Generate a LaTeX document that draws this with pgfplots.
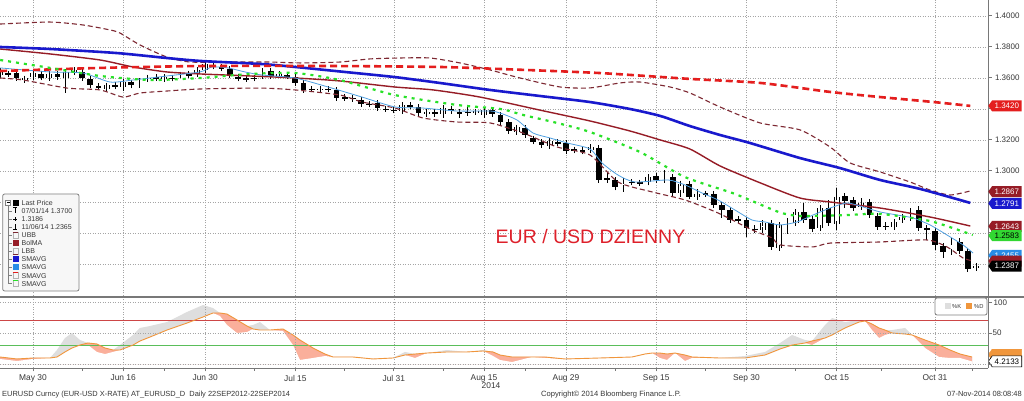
\documentclass[border=0pt]{standalone}
\usepackage{pgfplots}
\pgfplotsset{compat=1.18}
\usepackage{pgfplotstable}
\usetikzlibrary{shapes.symbols}
\usepackage{fontspec}
\setmainfont{Liberation Sans}

\definecolor{smablue}{RGB}{25,25,205}
\definecolor{smared}{RGB}{228,30,30}
\definecolor{bolred}{RGB}{150,28,38}
\definecolor{bandred}{RGB}{125,40,50}
\definecolor{ltblue}{RGB}{80,160,225}
\definecolor{lblblue}{RGB}{40,140,230}
\definecolor{smagreen}{RGB}{40,225,40}
\definecolor{lblgreen}{RGB}{50,215,50}
\definecolor{gridgray}{RGB}{165,165,165}
\definecolor{axisgray}{RGB}{120,120,120}
\definecolor{txtgray}{RGB}{55,55,55}
\definecolor{stochorange}{RGB}{240,150,60}
\definecolor{stochgrey}{RGB}{222,222,222}
\definecolor{stochpink}{RGB}{250,175,155}
\definecolor{titlered}{RGB}{222,32,42}
\definecolor{obred}{RGB}{205,70,70}
\definecolor{obgreen}{RGB}{90,190,90}

\pgfplotstableread{
i o h l c u
-4 1.3619 1.3652 1.3613 1.3645 1
-3 1.3629 1.3645 1.3606 1.3626 0
-2 1.3632 1.3639 1.3594 1.3600 0
-1 1.3587 1.3606 1.3568 1.3597 1
0 1.3606 1.3639 1.3600 1.3632 1
1 1.3629 1.3639 1.3594 1.3603 0
2 1.3600 1.3632 1.3587 1.3626 1
3 1.3626 1.3632 1.3600 1.3606 0
4 1.3600 1.3652 1.3503 1.3639 1
5 1.3639 1.3658 1.3632 1.3652 1
6 1.3639 1.3652 1.3594 1.3600 0
7 1.3594 1.3600 1.3548 1.3555 0
8 1.3548 1.3555 1.3535 1.3542 0
9 1.3529 1.3561 1.3523 1.3552 1
10 1.3555 1.3561 1.3535 1.3545 0
11 1.3545 1.3581 1.3516 1.3574 1
12 1.3571 1.3581 1.3548 1.3552 0
13 1.3555 1.3587 1.3548 1.3581 1
14 1.3594 1.3619 1.3587 1.3603 1
15 1.3606 1.3613 1.3587 1.3600 0
16 1.3594 1.3613 1.3587 1.3606 1
17 1.3600 1.3613 1.3587 1.3597 0
18 1.3619 1.3639 1.3606 1.3623 1
19 1.3629 1.3645 1.3600 1.3616 0
20 1.3626 1.3658 1.3619 1.3652 1
21 1.3652 1.3700 1.3645 1.3690 1
22 1.3684 1.3697 1.3665 1.3674 0
23 1.3671 1.3677 1.3652 1.3661 0
24 1.3658 1.3665 1.3613 1.3619 0
25 1.3606 1.3613 1.3587 1.3597 0
26 1.3597 1.3613 1.3574 1.3594 0
27 1.3600 1.3613 1.3581 1.3597 0
28 1.3613 1.3652 1.3606 1.3645 1
29 1.3645 1.3652 1.3606 1.3613 0
30 1.3619 1.3639 1.3606 1.3626 1
31 1.3619 1.3632 1.3600 1.3613 0
32 1.3606 1.3613 1.3561 1.3568 0
33 1.3568 1.3574 1.3516 1.3523 0
34 1.3529 1.3548 1.3510 1.3526 0
35 1.3526 1.3542 1.3510 1.3529 1
36 1.3529 1.3542 1.3516 1.3526 0
37 1.3523 1.3529 1.3465 1.3471 0
38 1.3477 1.3490 1.3458 1.3471 0
39 1.3471 1.3484 1.3452 1.3465 0
40 1.3461 1.3471 1.3426 1.3432 0
41 1.3432 1.3445 1.3419 1.3429 0
42 1.3439 1.3445 1.3400 1.3406 0
43 1.3403 1.3419 1.3387 1.3400 0
44 1.3394 1.3406 1.3374 1.3390 0
45 1.3387 1.3439 1.3381 1.3426 1
46 1.3426 1.3432 1.3406 1.3416 0
47 1.3413 1.3426 1.3348 1.3374 0
48 1.3368 1.3387 1.3348 1.3381 1
49 1.3381 1.3387 1.3361 1.3368 0
50 1.3368 1.3426 1.3342 1.3406 1
51 1.3400 1.3406 1.3381 1.3387 0
52 1.3381 1.3387 1.3342 1.3371 0
53 1.3381 1.3413 1.3355 1.3377 0
54 1.3381 1.3400 1.3361 1.3384 1
55 1.3361 1.3400 1.3355 1.3394 1
56 1.3394 1.3400 1.3361 1.3368 0
57 1.3361 1.3368 1.3310 1.3316 0
58 1.3316 1.3323 1.3252 1.3258 0
59 1.3252 1.3290 1.3245 1.3281 1
60 1.3277 1.3290 1.3226 1.3232 0
61 1.3210 1.3219 1.3181 1.3190 0
62 1.3187 1.3200 1.3161 1.3168 0
63 1.3161 1.3200 1.3155 1.3194 1
64 1.3184 1.3206 1.3161 1.3181 0
65 1.3181 1.3194 1.3123 1.3129 0
66 1.3139 1.3148 1.3123 1.3132 0
67 1.3135 1.3142 1.3116 1.3126 0
68 1.3135 1.3155 1.3129 1.3155 1
69 1.3148 1.3161 1.2923 1.2942 0
70 1.2955 1.2987 1.2923 1.2948 0
71 1.2942 1.2948 1.2884 1.2894 0
72 1.2890 1.2955 1.2865 1.2935 1
73 1.2929 1.2948 1.2910 1.2926 0
74 1.2926 1.2935 1.2910 1.2923 0
75 1.2926 1.2974 1.2916 1.2961 1
76 1.2968 1.2981 1.2935 1.2942 0
77 1.2942 1.3006 1.2929 1.2965 1
78 1.2961 1.2968 1.2845 1.2858 0
79 1.2858 1.2929 1.2832 1.2919 1
80 1.2919 1.2929 1.2826 1.2835 0
81 1.2832 1.2884 1.2826 1.2852 1
82 1.2855 1.2871 1.2832 1.2852 0
83 1.2852 1.2858 1.2774 1.2781 0
84 1.2781 1.2787 1.2697 1.2748 0
85 1.2748 1.2755 1.2677 1.2684 0
86 1.2690 1.2703 1.2671 1.2681 0
87 1.2684 1.2697 1.2574 1.2632 0
88 1.2629 1.2652 1.2600 1.2626 0
89 1.2619 1.2684 1.2606 1.2665 1
90 1.2665 1.2677 1.2503 1.2510 0
91 1.2503 1.2671 1.2497 1.2652 1
92 1.2645 1.2697 1.2594 1.2671 1
93 1.2665 1.2748 1.2645 1.2735 1
94 1.2735 1.2794 1.2677 1.2684 0
95 1.2690 1.2703 1.2613 1.2626 0
96 1.2632 1.2781 1.2626 1.2761 1
97 1.2761 1.2813 1.2652 1.2665 0
98 1.2658 1.2890 1.2619 1.2832 1
99 1.2839 1.2852 1.2761 1.2806 0
100 1.2813 1.2826 1.2755 1.2761 0
101 1.2768 1.2826 1.2748 1.2794 1
102 1.2800 1.2813 1.2703 1.2716 0
103 1.2710 1.2723 1.2632 1.2639 0
104 1.2645 1.2671 1.2619 1.2642 0
105 1.2639 1.2684 1.2632 1.2671 1
106 1.2684 1.2716 1.2671 1.2703 1
107 1.2697 1.2761 1.2684 1.2729 1
108 1.2748 1.2774 1.2626 1.2632 0
109 1.2632 1.2639 1.2555 1.2619 0
110 1.2613 1.2626 1.2490 1.2523 0
111 1.2516 1.2529 1.2439 1.2477 0
112 1.2477 1.2568 1.2465 1.2542 1
113 1.2542 1.2568 1.2465 1.2484 0
114 1.2484 1.2503 1.2365 1.2368 0
115 1.2375 1.2394 1.2368 1.2387 1
}\candles

\pgfplotstableread{
i d g p
-4.02 11.3 11.3 8.1
-1.95 8.1 8.1 4.8
0 9.7 9.7 8.1
2.07 9.7 9.7 9.7
2.93 11.3 22.6 11.3
3.90 19.4 41.9 19.4
4.76 25.8 50.0 25.8
5.73 30.6 38.7 30.6
6.71 33.9 33.9 30.6
7.80 32.3 32.3 19.4
8.78 25.8 25.8 16.1
9.76 22.6 22.6 19.4
10.61 22.6 30.6 22.6
12.20 30.6 46.8 30.6
13.05 37.1 58.1 37.1
14.27 43.5 61.3 43.5
16.34 54.8 67.7 54.8
18.78 66.1 83.9 66.1
20.73 75.8 95.2 75.8
21.95 82.3 90.3 82.3
22.80 82.3 82.3 77.4
23.66 80.6 80.6 62.9
24.88 71.0 71.0 50.0
26.10 61.3 61.3 51.6
26.83 56.5 62.9 56.5
27.68 54.8 67.7 54.8
28.90 54.8 54.8 54.8
30.49 56.5 56.5 53.2
31.71 46.8 46.8 30.6
32.56 38.7 38.7 6.5
34.15 25.8 25.8 9.7
35.61 16.1 16.1 12.9
36.59 11.3 11.3 11.3
39.02 11.3 11.3 11.3
41.46 8.1 8.1 8.1
43.90 9.7 9.7 9.7
45.37 14.5 19.4 14.5
46.59 16.1 16.1 9.7
48.05 17.7 17.7 17.7
50.49 19.4 22.6 19.4
52.93 19.4 19.4 19.4
54.88 21.0 22.6 21.0
56.10 19.4 19.4 12.9
56.95 14.5 14.5 6.5
58.41 11.3 11.3 3.2
60.85 11.3 11.3 11.3
62.44 11.3 11.3 9.7
64.88 8.1 8.1 8.1
69.15 9.7 9.7 9.7
73.05 11.3 11.3 11.3
74.63 16.1 16.1 16.1
75.49 17.7 17.7 17.7
76.46 17.7 17.7 9.7
77.32 16.1 16.1 6.5
78.29 17.7 17.7 17.7
79.51 14.5 14.5 4.8
80.37 11.3 11.3 9.7
83.66 9.7 9.7 9.7
86.83 9.7 12.9 9.7
89.27 14.5 19.4 14.5
91.10 24.2 33.9 24.2
92.56 30.6 46.8 30.6
94.15 33.9 38.7 33.9
95.00 37.1 37.1 30.6
96.59 41.9 62.9 41.9
97.44 46.8 74.2 46.8
99.02 58.1 67.7 58.1
100.73 67.7 71.0 67.7
101.46 69.4 69.4 69.4
102.32 64.5 64.5 54.8
103.17 58.1 58.1 41.9
103.90 54.8 54.8 46.8
104.76 50.0 54.8 50.0
106.34 48.4 58.1 48.4
107.20 46.8 46.8 46.8
108.78 38.7 38.7 25.8
110.49 30.6 30.6 11.3
111.83 22.6 22.6 9.7
113.05 16.1 16.1 9.7
114.51 11.3 11.3 4.2
}\stoch

\tikzset{plabel/.style={shape=signal, signal to=west, signal from=nowhere,
  signal pointer angle=110, anchor=west, inner xsep=2.5pt, inner ysep=1.2pt,
  minimum height=11pt, font=\fontsize{8}{9}\selectfont, text=white}}

\begin{document}
\begin{tikzpicture}[x=1pt,y=1pt]
\useasboundingbox (0,0) rectangle (1024,401);
\fill[white] (0,0) rectangle (1024,401);

% ---------------- main price panel ----------------
\begin{axis}[
  at={(0pt,105pt)}, anchor=south west,
  width=988pt, height=296pt, scale only axis,
  xmin=-4.02, xmax=116.46, ymin=1.21935, ymax=1.41032,
  clip mode=individual,
  axis x line*=bottom, axis y line*=right,
  x axis line style={draw=none},
  y axis line style={draw=axisgray, line width=0.8pt},
  xtick={0,11,21,32,44,55,65,76,87,98,110}, xticklabels={},
  x tick style={draw=none},
  ytick={1.24,1.26,1.28,1.30,1.32,1.34,1.36,1.38,1.40},
  yticklabels={,,,1.3000,1.3200,,1.3600,1.3800,1.4000},
  yticklabel style={font=\fontsize{8}{9}\selectfont, text=txtgray},
  y tick style={draw=axisgray, line width=1pt},
  tick align=outside, major tick length=3.5pt,
  xmajorgrids, ymajorgrids,
  grid style={gridgray, line width=0.5pt, dash pattern=on 1pt off 1.5pt},
]
% wicks
\addplot[draw=none, mark=none, error bars/.cd, y dir=both, y explicit, error mark=none,
  error bar style={draw=black, line width=0.8pt}]
  table[x=i, y expr={(\thisrow{h}+\thisrow{l})/2}, y error expr={(\thisrow{h}-\thisrow{l})/2}] {\candles};
% down bodies (black)
\addplot[draw=none, mark=none, error bars/.cd, y dir=both, y explicit,
  error bar style={draw=black, line width=5.8pt},
  error mark=-, error mark options={draw=black, line width=0.9pt, mark size=2.9pt}]
  table[x expr={\thisrow{u}==0 ? \thisrow{i} : -100}, y expr={(\thisrow{o}+\thisrow{c})/2},
        y error expr={abs(\thisrow{o}-\thisrow{c})/2}] {\candles};
% up bodies (hollow)
\addplot[draw=none, mark=none, error bars/.cd, y dir=both, y explicit, error mark=none,
  error bar style={draw=black, line width=5.8pt}]
  table[x expr={\thisrow{u}==1 ? \thisrow{i} : -100}, y expr={(\thisrow{o}+\thisrow{c})/2},
        y error expr={abs(\thisrow{o}-\thisrow{c})/2}] {\candles};
\addplot[draw=none, mark=none, error bars/.cd, y dir=both, y explicit,
  error bar style={draw=white, line width=4.2pt},
  error mark=-, error mark options={draw=black, line width=0.9pt, mark size=2.9pt}]
  table[x expr={\thisrow{u}==1 ? \thisrow{i} : -100}, y expr={(\thisrow{o}+\thisrow{c})/2},
        y error expr={abs(\thisrow{o}-\thisrow{c})/2}] {\candles};

% upper Bollinger band
\addplot[bandred, line width=1.1pt, dash pattern=on 5pt off 3pt, smooth, tension=0.4] coordinates {
(-4.02,1.3948) (2.07,1.3961) (6.10,1.3942) (9.39,1.3910) (10.61,1.3890) (13.05,1.3813)
(16.34,1.3735) (19.15,1.3703) (24.02,1.3703) (28.90,1.3703) (32.56,1.3697) (37.44,1.3703)
(41.10,1.3723) (44.76,1.3729) (48.41,1.3729) (52.07,1.3697) (55.73,1.3652) (59.39,1.3600)
(64.27,1.3542) (67.93,1.3536) (71.59,1.3568) (74.02,1.3574) (77.68,1.3542) (80.12,1.3503)
(83.78,1.3413) (88.66,1.3310) (93.54,1.3265) (97.20,1.3155) (99.63,1.3052) (103.29,1.2994)
(106.95,1.2929) (109.39,1.2877) (111.83,1.2845) (114.27,1.2871)};
% lower Bollinger band
\addplot[bandred, line width=1.1pt, dash pattern=on 5pt off 3pt, smooth, tension=0.4] coordinates {
(-4.02,1.3600) (-1.22,1.3587) (4.15,1.3535) (8.17,1.3523) (10.98,1.3477) (13.05,1.3503)
(16.34,1.3516) (20.37,1.3529) (27.68,1.3535) (31.95,1.3523) (37.44,1.3490) (40.12,1.3445)
(44.15,1.3406) (47.56,1.3342) (51.71,1.3316) (55.73,1.3310) (59.76,1.3245) (63.90,1.3155)
(67.93,1.3103) (71.34,1.2929) (75.49,1.2865) (79.51,1.2813) (83.54,1.2729) (87.68,1.2620)
(90.12,1.2568) (91.10,1.2523) (95.12,1.2510) (97.20,1.2535) (103.29,1.2542) (109.02,1.2555)
(111.46,1.2510) (113.41,1.2439) (114.63,1.2419)};
% Bollinger MA
\addplot[bolred, line width=1.4pt, smooth, tension=0.4] coordinates {
(-4.0,1.3787) (2.1,1.3755) (8.2,1.3716) (12.2,1.3671) (16.3,1.3639) (20.4,1.3626)
(26.5,1.3613) (32.0,1.3600) (37.4,1.3581) (44.1,1.3542) (48.8,1.3523) (54.5,1.3477)
(61.8,1.3393) (67.9,1.3323) (72.8,1.3258) (76.5,1.3200) (80.1,1.3142) (83.8,1.3032)
(88.7,1.2923) (93.5,1.2826) (97.2,1.2800) (103.3,1.2761) (109.4,1.2703) (114.3,1.2645)};
% short SMA (light blue)
\addplot[ltblue, line width=0.8pt, smooth, tension=0.4] coordinates {
(-4.02,1.3665) (2.07,1.3639) (6.10,1.3632) (9.39,1.3574) (12.20,1.3587) (16.34,1.3613)
(20.37,1.3639) (21.83,1.3671) (23.78,1.3665) (25.85,1.3639) (27.93,1.3619) (31.95,1.3600)
(35.98,1.3542) (40.12,1.3477) (44.15,1.3413) (47.56,1.3406) (51.71,1.3387) (55.73,1.3387)
(56.95,1.3374) (59.02,1.3329) (60.98,1.3245) (63.05,1.3213) (65.12,1.3181) (67.93,1.3142)
(69.39,1.3052) (71.34,1.2974) (73.41,1.2929) (77.44,1.2942) (79.51,1.2910) (81.59,1.2858)
(83.54,1.2813) (85.61,1.2748) (87.68,1.2684) (89.27,1.2671) (91.10,1.2652) (93.17,1.2671)
(95.12,1.2716) (97.20,1.2761) (99.27,1.2794) (101.22,1.2768) (103.29,1.2736) (105.37,1.2716)
(107.32,1.2697) (109.39,1.2652) (111.46,1.2587) (113.41,1.2523) (114.63,1.2471)};
% long SMA (blue)
\addplot[smablue, line width=2.6pt, smooth, tension=0.4] coordinates {
(-4.0,1.3800) (2.1,1.3787) (10.2,1.3761) (16.3,1.3729) (20.4,1.3710) (27.9,1.3690)
(32.0,1.3671) (38.0,1.3639) (44.1,1.3606) (49.6,1.3568) (55.7,1.3523) (61.8,1.3484)
(67.9,1.3445) (72.8,1.3400) (76.5,1.3355) (80.1,1.3290) (83.8,1.3232) (87.4,1.3181)
(93.5,1.3084) (98.4,1.3019) (103.3,1.2942) (108.2,1.2884) (114.3,1.2794)};
% 200 day SMA (red dashed)
\addplot[smared, line width=2.6pt, dash pattern=on 7pt off 4pt, smooth, tension=0.4] coordinates {
(-4.0,1.3645) (8.2,1.3665) (20.4,1.3677) (37.4,1.3677) (49.6,1.3671) (57.0,1.3658)
(69.1,1.3632) (80.1,1.3594) (88.7,1.3568) (97.2,1.3510) (103.3,1.3477) (109.8,1.3445)
(114.3,1.3420)};
% green SMA (dotted)
\addplot[smagreen, line width=2.2pt, dash pattern=on 3pt off 5pt, smooth, tension=0.4] coordinates {
(-4.0,1.3716) (2.1,1.3665) (8.2,1.3613) (14.3,1.3587) (20.4,1.3600) (26.5,1.3626)
(32.0,1.3632) (37.4,1.3587) (44.1,1.3490) (51.7,1.3426) (57.0,1.3400) (59.8,1.3361)
(63.9,1.3310) (67.9,1.3252) (74.0,1.3123) (79.5,1.2961) (85.6,1.2852) (90.9,1.2736)
(93.5,1.2710) (99.3,1.2716) (103.3,1.2723) (109.4,1.2677) (114.6,1.2587)};

% value labels on the right
\node[plabel, fill=smared] at (axis cs:116.46,1.3420) {1.3420};
\node[plabel, fill=bolred] at (axis cs:116.46,1.2867) {1.2867};
\node[plabel, fill=smablue] at (axis cs:116.46,1.2791) {1.2791};
\node[plabel, fill=bolred] at (axis cs:116.46,1.2643) {1.2643};
\node[plabel, fill=lblgreen, text=black] at (axis cs:116.46,1.2583) {1.2583};
\node[plabel, fill=lblblue] at (axis cs:116.46,1.2455) {1.2455};
\node[plabel, fill=bolred] at (axis cs:116.46,1.2419) {\phantom{1.2419}};
\node[plabel, fill=black] at (axis cs:116.46,1.2387) {1.2387};
\end{axis}

% ---------------- stochastic panel ----------------
\begin{axis}[
  at={(0pt,33pt)}, anchor=south west,
  width=988pt, height=70pt, scale only axis,
  xmin=-4.02, xmax=116.46, ymin=-6.45, ymax=106.5,
  clip=false, axis on top,
  axis x line*=bottom, axis y line*=right,
  axis line style={draw=axisgray, line width=0.8pt},
  xtick={0,11,21,32,44,55,65,76,87,98,110},
  xticklabels={May 30,Jun 16,Jun 30,Jul 15,Jul 31,Aug 15,Aug 29,Sep 15,Sep 30,Oct 15,Oct 31},
  minor xtick={6,16,27,38,50,60,71,82,93,103.5,114.5},
  xticklabel style={font=\fontsize{8.4}{9}\selectfont, text=txtgray},
  ytick={0,50,100}, yticklabels={},
  tick style={draw=axisgray, line width=0.8pt},
  tick align=outside, major tick length=3.5pt, minor tick length=3pt,
  xmajorgrids, ymajorgrids,
  grid style={gridgray, line width=0.5pt, dash pattern=on 1pt off 1.5pt},
]
% %K above %D (grey), %K below %D (salmon)
\addplot[fill=stochgrey, draw=none] table[x=i, y=g] {\stoch} \closedcycle;
\addplot[fill=stochpink, draw=none] table[x=i, y=d] {\stoch} \closedcycle;
\addplot[fill=white, draw=none] table[x=i, y=p] {\stoch} \closedcycle;
\addplot[obred, line width=0.8pt] coordinates {(-4.02,70) (116.46,70)};
\addplot[obgreen, line width=0.8pt] coordinates {(-4.02,30) (116.46,30)};
\addplot[stochorange, line width=0.9pt] table[x=i, y=d] {\stoch};
\node[anchor=west, xshift=4.5pt, inner sep=0pt, font=\fontsize{8}{9}\selectfont, text=txtgray] at (axis cs:116.46,50) {50};
\node[plabel, fill=stochorange, draw=stochorange] at (axis cs:116.46,15) {\phantom{4.2133}};
\node[plabel, fill=white, draw=black, line width=0.6pt, text=black] at (axis cs:116.46,4.2133) {4.2133};
\end{axis}

% panel separator
\draw[color=axisgray, line width=2pt] (0,104) -- (1024,104);

% title
\node[anchor=base, font=\fontsize{19.5}{21}\selectfont, text=titlered] at (590.5,157) {EUR / USD DZIENNY};

% year under Aug 15
\node[font=\fontsize{8.4}{9}\selectfont, text=txtgray] at (491,15.5) {2014};

% footer
\node[anchor=base west, inner sep=0pt, font=\fontsize{7.45}{8}\selectfont, text=txtgray] at (2,5)
  {EURUSD Curncy (EUR-USD X-RATE) AT\_EURUSD\_D\ \ Daily 22SEP2012-22SEP2014};
\node[anchor=base west, inner sep=0pt, font=\fontsize{7.6}{8}\selectfont, text=txtgray] at (541,5)
  {Copyright\textcopyright{} 2014 Bloomberg Finance L.P.};
\node[anchor=base east, inner sep=0pt, font=\fontsize{7.5}{8}\selectfont, text=txtgray] at (1022,5)
  {07-Nov-2014 08:08:48};

% main legend
\draw[draw=gray, fill=gray!6, rounded corners=2pt, line width=0.8pt] (2.7,110) rectangle (79,207);
\draw[gray, line width=0.4pt] (8,195.5) -- (8,117.3);
\foreach \yy in {190.2,182.1,174.0,165.9,157.8,149.7,141.6,133.5,125.4,117.3}
  \draw[gray, line width=0.4pt] (8,\yy) -- (11.5,\yy);
\draw[gray, fill=white, line width=0.4pt] (5.5,195.8) rectangle (10.5,200.8);
\draw[black, line width=0.4pt] (6.5,198.3) -- (9.5,198.3);
\fill[black] (12.5,195.3) rectangle (18.5,201.3);
\draw[black, line width=0.6pt] (13,193.2) -- (17,193.2) (15,193.2) -- (15,187.5);
\draw[black, line width=0.6pt] (13,182.1) -- (17,182.1) (15,180.3) -- (15,183.9);
\draw[black, line width=0.6pt] (13,171.2) -- (17,171.2) (15,171.2) -- (15,177);
\draw[gray!60, line width=0.4pt] (12.8,163) rectangle (18.2,168.8);
\draw[bandred, line width=0.9pt] (12.8,168.8) -- (18.2,168.8);
\fill[bolred] (12.5,154.8) rectangle (18.5,160.8);
\draw[gray!60, line width=0.4pt] (12.8,146.8) rectangle (18.2,152.6);
\draw[bandred, line width=0.9pt] (12.8,146.8) -- (18.2,146.8);
\fill[smablue] (12.5,138.6) rectangle (18.5,144.6);
\fill[lblblue] (12.5,130.5) rectangle (18.5,136.5);
\draw[gray!60, line width=0.4pt] (12.8,122.6) rectangle (18.2,128.4);
\draw[smared, line width=0.9pt] (12.8,128.4) -- (18.2,128.4);
\draw[gray!60, line width=0.4pt] (12.8,114.5) rectangle (18.2,120.3);
\draw[smagreen, line width=0.9pt] (12.8,120.3) -- (18.2,120.3);
\begin{scope}[every node/.style={anchor=west, inner sep=0pt, font=\fontsize{7}{8}\selectfont, text=txtgray}]
\node at (21.5,198.3) {Last Price};
\node at (21.5,190.2) {07/01/14 1.3700};
\node at (21.5,182.1) {1.3186};
\node at (21.5,174.0) {11/06/14 1.2365};
\node at (21.5,165.9) {UBB};
\node at (21.5,157.8) {BolMA};
\node at (21.5,149.7) {LBB};
\node at (21.5,141.6) {SMAVG};
\node at (21.5,133.5) {SMAVG};
\node at (21.5,125.4) {SMAVG};
\node at (21.5,117.3) {SMAVG};
\end{scope}

% stochastic legend
\draw[draw=gray, fill=white, rounded corners=2pt, line width=0.8pt] (935,86) rectangle (987,103);
\fill[stochgrey] (945,91.5) rectangle (951,97.5);
\node[anchor=west, inner sep=0pt, font=\fontsize{5.8}{6}\selectfont, text=txtgray] at (952,94.5) {\%K};
\fill[stochorange] (966,91.5) rectangle (972,97.5);
\node[anchor=west, inner sep=0pt, font=\fontsize{5.8}{6}\selectfont, text=txtgray] at (974,94.5) {\%D};

% top label of the stochastic scale, drawn last
\node[anchor=west, inner sep=0pt, font=\fontsize{8}{9}\selectfont, text=txtgray] at (993.5,98.5) {100};
\end{tikzpicture}
\end{document}
